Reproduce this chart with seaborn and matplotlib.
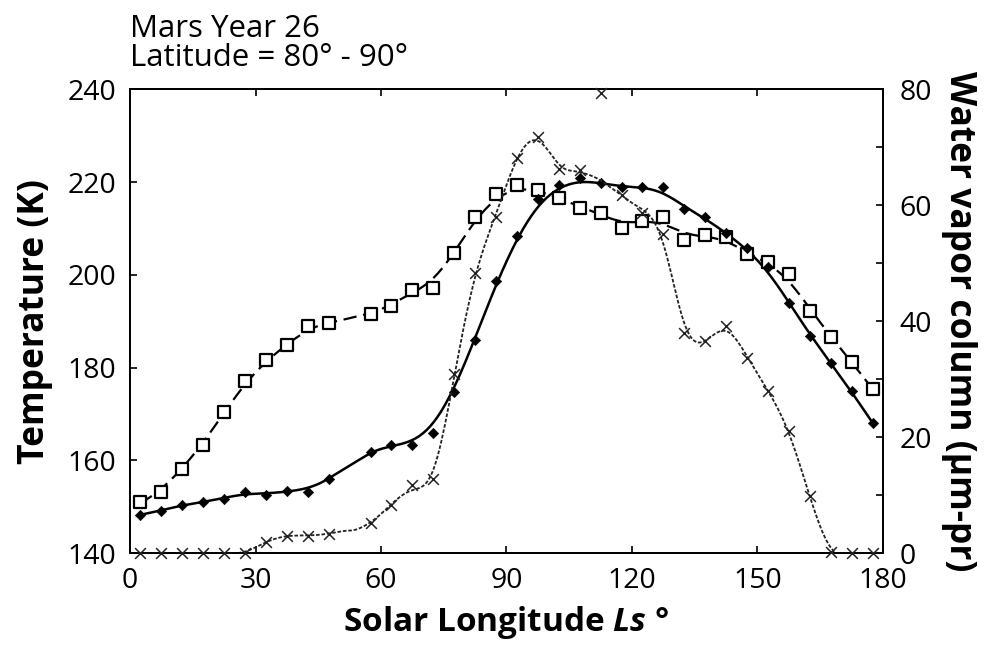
import numpy as np
import matplotlib
matplotlib.use("Agg")
import matplotlib.pyplot as plt
import seaborn as sns

sns.set_theme(style="ticks")
plt.rcParams.update({
    'font.family': ['Open Sans', 'DejaVu Sans'],
    'mathtext.fontset': 'custom',
    'mathtext.it': 'Open Sans:italic:bold',
    'mathtext.rm': 'Open Sans:bold',
    'axes.edgecolor': 'black',
    'axes.linewidth': 1.3,
    'text.color': 'black',
    'axes.labelcolor': 'black',
    'xtick.color': 'black',
    'ytick.color': 'black',
})

# Solar longitude bins (no data in the 50-55 bin)
ls = [2.5, 7.5, 12.5, 17.5, 22.5, 27.5, 32.5, 37.5, 42.5, 47.5,
      57.5, 62.5, 67.5, 72.5, 77.5, 82.5, 87.5, 92.5, 97.5, 102.5,
      107.5, 112.5, 117.5, 122.5, 127.5, 132.5, 137.5, 142.5, 147.5, 152.5,
      157.5, 162.5, 167.5, 172.5, 177.5]

# open squares, left axis (K)
temp_squares = [151.0, 153.1, 158.2, 163.4, 170.4, 177.1, 181.7, 184.9, 188.9, 189.6,
                191.6, 193.3, 196.7, 197.1, 204.8, 212.5, 217.4, 219.4, 218.4, 216.6,
                214.5, 213.4, 210.2, 211.6, 212.5, 207.5, 208.6, 208.2, 204.4, 202.8,
                200.1, 192.3, 186.7, 181.3, 175.4]

# filled diamonds, left axis (K)
temp_diamonds = [148.3, 149.2, 150.5, 151.0, 151.8, 153.3, 152.5, 153.5, 153.3, 156.1,
                 161.9, 163.4, 163.4, 166.0, 174.7, 186.0, 198.7, 208.4, 216.3, 219.3,
                 220.9, 219.7, 218.9, 218.9, 218.9, 214.1, 212.5, 209.0, 205.7, 201.6,
                 194.0, 186.9, 181.1, 174.9, 168.1]

# crosses, right axis (precipitable microns)
water_vapor = [0.0, 0.0, 0.0, 0.0, 0.0, 0.1, 2.0, 3.0, 3.0, 3.4,
               5.3, 8.4, 11.8, 12.8, 30.9, 48.3, 57.9, 68.1, 71.8, 66.2,
               66.0, 79.4, 61.7, 58.6, 55.1, 37.9, 36.6, 39.2, 33.6, 27.9,
               21.1, 9.9, 0.3, 0.0, 0.0]


def local_fit(x, y, rw, grid, bw, deg=1):
    """Gaussian-weighted local polynomial regression evaluated on grid."""
    out = []
    for g in grid:
        w = rw * np.exp(-0.5 * ((x - g) / bw) ** 2)
        X = np.column_stack([(x - g) ** k for k in range(deg + 1)])
        XtW = X.T * w
        beta = np.linalg.solve(XtW @ X, XtW @ y)
        out.append(beta[0])
    return np.array(out)


def smooth_curve(x, y, bw, deg=1, reject=None):
    x = np.asarray(x, float)
    y = np.asarray(y, float)
    rw = np.ones_like(y)
    if reject is not None:
        # leave-one-out check, drop points far from their neighbours
        for i in range(len(x)):
            keep = np.arange(len(x)) != i
            pred = local_fit(x[keep], y[keep], rw[keep], [x[i]], bw, 1)[0]
            if abs(y[i] - pred) > reject:
                rw[i] = 0.0
    grid = np.linspace(x.min(), x.max(), 400)
    return grid, local_fit(x, y, rw, grid, bw, deg)


fig = plt.figure(figsize=(9.88, 6.55), dpi=100)
ax = fig.add_axes([0.1316, 0.1553, 0.7621, 0.7084])
ax2 = ax.twinx()

gx, gy = smooth_curve(ls, temp_squares, 4.5)
sns.lineplot(x=gx, y=gy, ax=ax, color='black', lw=1.6,
             linestyle=(0, (6, 3)))
gx, gy = smooth_curve(ls, temp_diamonds, 4.5)
sns.lineplot(x=gx, y=gy, ax=ax, color='black', lw=1.8)
gx, gy = smooth_curve(ls, water_vapor, 4.0, deg=2, reject=12)
sns.lineplot(x=gx, y=np.clip(gy, 0, None), ax=ax2, color='#222222', lw=1.3,
             linestyle=(0, (2, 1)))

sns.scatterplot(x=ls, y=temp_squares, ax=ax, marker='s', s=75,
                facecolor='white', edgecolor='black', linewidth=1.6, zorder=4)
sns.scatterplot(x=ls, y=temp_diamonds, ax=ax, marker='D', s=28,
                color='black', edgecolor='black', zorder=4)
sns.scatterplot(x=ls, y=water_vapor, ax=ax2, marker='x', s=60,
                color='#222222', linewidth=1.1, zorder=4, clip_on=False)

ax.set_xlim(0, 180)
ax.set_ylim(140, 240)
ax2.set_ylim(0, 80)
ax.set_xticks(range(0, 181, 30))
ax.set_yticks(range(140, 241, 20))
ax2.set_yticks(range(0, 81, 10))
ax2.set_yticklabels([str(v) if v % 20 == 0 else '' for v in range(0, 81, 10)])

ax.tick_params(axis='x', direction='in', top=True, length=5, width=1.2,
               labelsize=20.5, pad=10, colors='black')
ax.tick_params(axis='y', direction='in', length=5, width=1.2,
               labelsize=20.5, pad=10, colors='black')
ax2.tick_params(axis='y', direction='in', length=5, width=1.2,
                labelsize=20.5, pad=12, colors='black')
for spine in ax2.spines.values():
    spine.set_linewidth(1.3)

ax.set_xlabel(r"Solar Longitude $\mathit{Ls}$ °", fontsize=24,
              fontweight='bold', labelpad=6)
ax.set_ylabel("Temperature (K)", fontsize=25.5, fontweight='bold', labelpad=10)
ax2.set_ylabel("Water vapor column (µm-pr)", fontsize=25.5, fontweight='bold',
               rotation=270, labelpad=32)

ax.text(0.0, 1.113, "Mars Year 26", transform=ax.transAxes, fontsize=22.5,
        ha='left', va='baseline', color='black')
ax.text(0.0, 1.05, "Latitude = 80° - 90°", transform=ax.transAxes,
        fontsize=22.5, ha='left', va='baseline', color='black')

fig.savefig("out.png", dpi=100, facecolor='white')
